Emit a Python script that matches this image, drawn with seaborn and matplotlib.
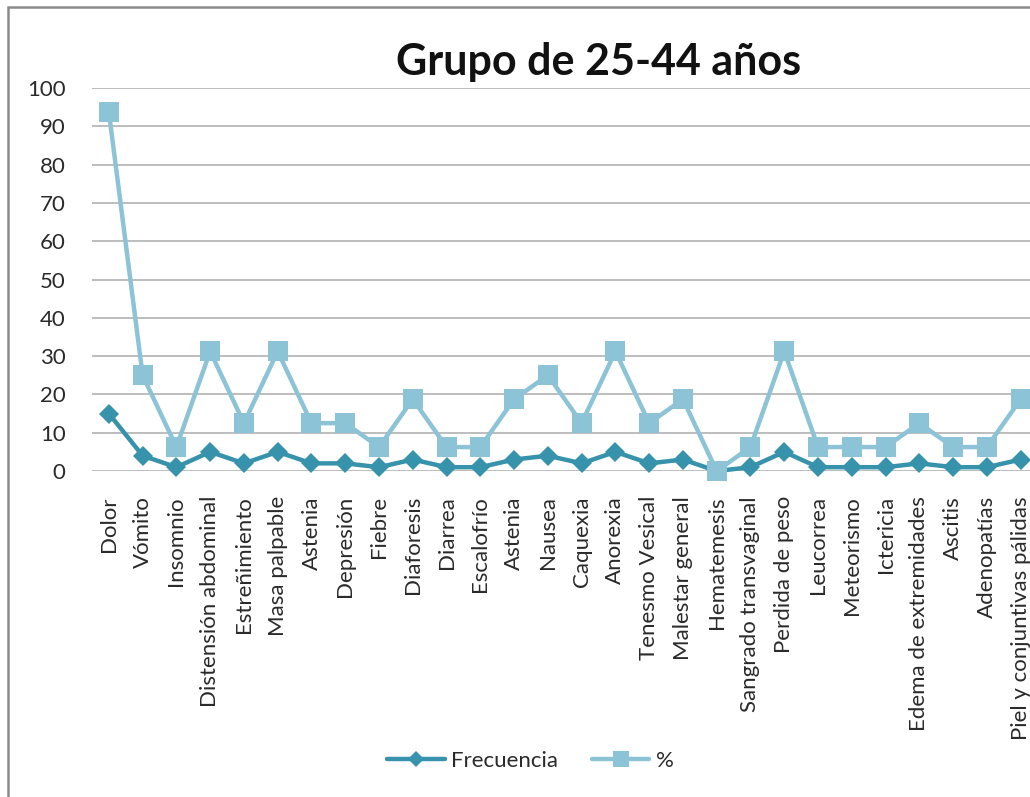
import numpy as np
import pandas as pd
import matplotlib
matplotlib.use("Agg")
import matplotlib.pyplot as plt
from matplotlib.lines import Line2D
from matplotlib.patches import Rectangle
import seaborn as sns

sintomas = [
    "Dolor", "Vómito", "Insomnio", "Distensión abdominal", "Estreñimiento",
    "Masa palpable", "Astenia", "Depresión", "Fiebre", "Diaforesis",
    "Diarrea", "Escalofrío", "Astenia", "Nausea", "Caquexia", "Anorexia",
    "Tenesmo Vesical", "Malestar general", "Hematemesis",
    "Sangrado transvaginal", "Perdida de peso", "Leucorrea", "Meteorismo",
    "Ictericia", "Edema de extremidades", "Ascitis", "Adenopatías",
    "Piel y conjuntivas pálidas",
]
frecuencia = [15, 4, 1, 5, 2, 5, 2, 2, 1, 3, 1, 1, 3, 4, 2, 5, 2, 3, 0, 1,
              5, 1, 1, 1, 2, 1, 1, 3]
porcentaje = [93.75, 25, 6.25, 31.25, 12.5, 31.25, 12.5, 12.5, 6.25, 18.75,
              6.25, 6.25, 18.75, 25, 12.5, 31.25, 12.5, 18.75, 0, 6.25,
              31.25, 6.25, 6.25, 6.25, 12.5, 6.25, 6.25, 18.75]
series = ["Frecuencia", "%"]
y_ticks = list(range(0, 101, 10))

sns.set_theme(style="white")
plt.rcParams["font.family"] = ["Lato", "DejaVu Sans"]

pos = np.arange(len(sintomas))
df = pd.concat([
    pd.DataFrame({"pos": pos, "valor": frecuencia, "serie": series[0]}),
    pd.DataFrame({"pos": pos, "valor": porcentaje, "serie": series[1]}),
], ignore_index=True)

colores = {"Frecuencia": "#3792ab", "%": "#8cc3d7"}
marcas = {"Frecuencia": "D", "%": "s"}
tamanos = {"Frecuencia": 10.5, "%": 14}

fig = plt.figure(figsize=(10.30, 7.97), dpi=100)
ax = fig.add_axes([0.0893, 0.409, 0.918, 0.4806])

for s in series:
    sns.lineplot(data=df[df["serie"] == s], x="pos", y="valor", ax=ax,
                 color=colores[s], marker=marcas[s], markersize=tamanos[s],
                 markeredgewidth=0, linewidth=3.2, legend=False,
                 clip_on=False, zorder=3)

ax.set_xlim(-0.5, len(sintomas) - 0.5)
ax.set_ylim(0, 100)
ax.set_yticks(y_ticks)
ax.set_xticks(pos)
ax.set_xticklabels(sintomas, rotation=90, ha="center", va="top")
ax.tick_params(axis="both", length=0, labelsize=16, colors="#2a2a2a")
ax.tick_params(axis="y", pad=19)
ax.tick_params(axis="x", pad=18)
ax.set_xlabel("")
ax.set_ylabel("")
ax.yaxis.grid(True, color="#bdbdbd", linewidth=1.4)
ax.xaxis.grid(False)
ax.set_axisbelow(True)
for sp in ax.spines.values():
    sp.set_visible(False)

fig.text(0.5816, 0.922, "Grupo de 25-44 años", ha="center", va="center",
         fontsize=31, fontweight="bold", color="#111111")

# chart frame
fig.patches.append(Rectangle((8 / 1030, -0.2), 1.2, 0.2 + (1 - 7 / 797),
                             transform=fig.transFigure, fill=False,
                             edgecolor="#8a8a8a", linewidth=1.8))

handles = [Line2D([], [], color=colores[s], marker=marcas[s],
                  markersize=tamanos[s] * 0.8, markeredgewidth=0,
                  linewidth=3.2) for s in series]
fig.legend(handles, series, loc="center", bbox_to_anchor=(0.515, 0.045),
           ncol=2, frameon=False, fontsize=16, handlelength=2.6,
           handletextpad=0.3, columnspacing=1.5, labelcolor="#2a2a2a")

fig.savefig("out.png", dpi=100)
